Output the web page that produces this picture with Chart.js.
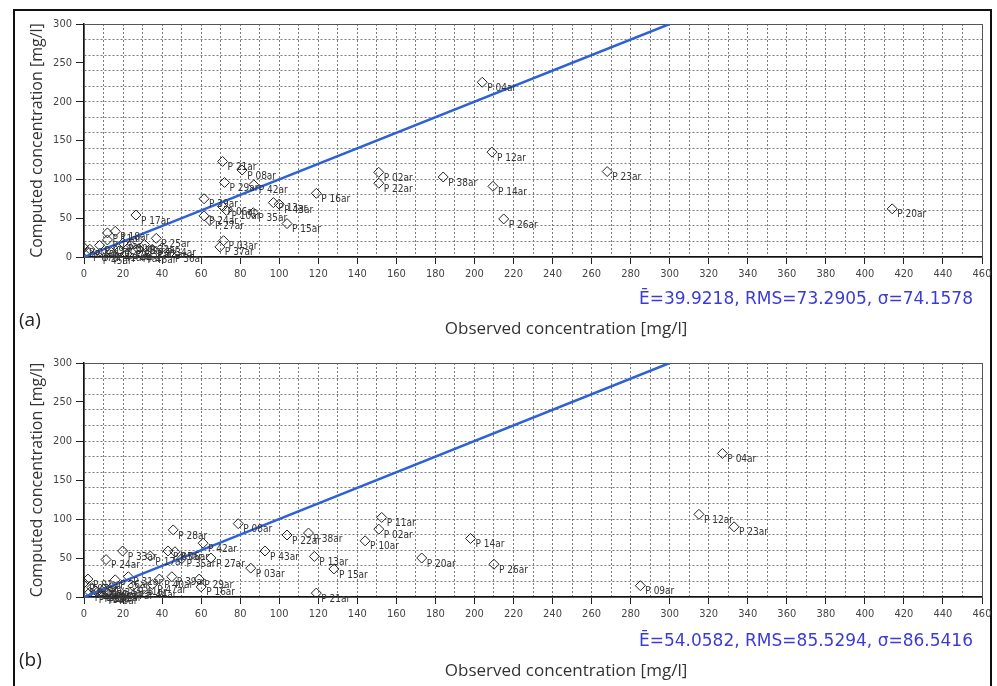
<!DOCTYPE html>
<html>
<head>
<meta charset="utf-8">
<script src="https://cdn.jsdelivr.net/npm/chart.js@4.4.1/dist/chart.umd.min.js"></script>
<style>
  body { margin: 0; background: #fff; width: 997px; height: 686px; overflow: hidden; position: relative; }
  #frame { position: absolute; left: 13px; top: 9px; width: 979px; height: 700px; border: 2px solid #111; box-sizing: border-box; }
  canvas { position: absolute; left: 0; }
  .tag { position: absolute; left: 19px; font: 19px "Open Sans", sans-serif; color: #222; line-height: 24px; }
  .stats { position: absolute; right: 24px; font: 17px "DejaVu Sans", sans-serif; color: #3b3bd8; line-height: 20px; white-space: nowrap; }
  .xtitle { position: absolute; left: 566px; transform: translateX(-50%); font: 17px "Open Sans", sans-serif; color: #333; line-height: 20px; white-space: nowrap; }
</style>
</head>
<body>
<div id="frame"></div>
<canvas id="chartA" width="997" height="340" style="top:0"></canvas>
<canvas id="chartB" width="997" height="346" style="top:340px"></canvas>
<div class="tag" style="top:307px">(a)</div>
<div class="tag" style="top:647px">(b)</div>
<div class="stats" style="top:288px">Ē=39.9218, RMS=73.2905, σ=74.1578</div>
<div class="stats" style="top:630px">Ē=54.0582, RMS=85.5294, σ=86.5416</div>
<div class="xtitle" style="top:318px">Observed concentration [mg/l]</div>
<div class="xtitle" style="top:660px">Observed concentration [mg/l]</div>
<script>
// panel (a)
const namesA = ["P 04ar", "P 12ar", "P 02ar", "P 22ar", "P 38ar", "P 14ar", "P 26ar", "P 23ar", "P 20ar", "P 16ar",
  "P 21ar", "P 08ar", "P 29ar", "P 42ar", "P 39ar", "P 06ar", "P 10ar", "P 35ar", "P 13ar", "P 43ar",
  "P 15ar", "P 24ar", "P 27ar", "P 17ar", "P 03ar", "P 37ar",
  "P 01ar", "P 07ar", "P 09ar", "P 11ar", "P 18ar", "P 19ar", "P 25ar", "P 28ar", "P 30ar", "P 31ar",
  "P 32ar", "P 33ar", "P 34ar", "P 36ar", "P 40ar", "P 41ar", "P 44ar", "P 45ar", "P 46ar", "P 47ar"];
const obsA = [204, 209, 151, 151, 184, 209.5, 215, 268, 414, 119,
  71, 81, 72, 87, 61.5, 71, 73, 86.7, 97, 100,
  104, 61.5, 64.5, 26.6, 71.5, 69.6,
  0, 2, 8, 12, 16, 12, 37, 24, 20, 28,
  31, 35, 40, 44, 3, 14, 22, 7, 30, 18];
const compA = [225, 135, 109, 95, 103, 91, 49, 110, 62, 82,
  123, 112, 96, 93, 75, 65, 60, 57, 70, 68,
  43, 53, 47, 54, 21, 13,
  12, 6, 15, 31, 33, 22, 24, 15, 18, 10,
  16, 10, 12, 5, 10, 6, 4, 2, 3, 8];

// panel (b)
const namesB = ["P 04ar", "P 12ar", "P 23ar", "P 09ar", "P 11ar", "P 02ar", "P 10ar", "P 14ar", "P 20ar", "P 26ar",
  "P 13ar", "P 15ar", "P 21ar", "P 22ar", "P 38ar", "P 08ar", "P 28ar", "P 42ar", "P 43ar", "P 03ar",
  "P 27ar", "P 33ar", "P 24ar", "P 17ar", "P 35ar", "P 05ar", "P 06ar", "P 31ar", "P 39ar", "P 40ar",
  "P 29ar", "P 16ar", "P 36ar", "P 01ar", "P 07ar", "P 18ar", "P 19ar", "P 25ar", "P 30ar", "P 32ar",
  "P 34ar", "P 37ar", "P 41ar", "P 44ar", "P 45ar", "P 46ar", "P 47ar", "P 48ar"];
const obsB = [327, 315, 333, 285, 152.5, 151, 144, 198, 173, 210,
  118, 128, 119, 104, 115, 79, 45.7, 61, 92.7, 85.4,
  65, 19.8, 11.3, 34, 50, 43, 46.6, 22.7, 45, 38.6,
  59, 60, 16, 2, 0, 4, 6, 8, 10, 12,
  14, 18, 25, 30, 5, 10, 35, 3];
const compB = [184, 106, 90, 14.5, 102, 87, 72, 75, 50, 42,
  52, 36, 5, 79.5, 82, 94, 86, 69, 59, 37,
  50, 59, 48, 52.5, 49, 59, 58, 26, 26, 23,
  23, 13, 22, 23, 18, 12, 8, 5, 10, 6,
  12, 8, 14, 10, 3, 2, 16, 6];

// 1:1 line
const lineObs = [0, 300];
const lineComp = [0, 300];

// axes
const xMin = 0, xMax = 460, xGridStep = 10, xLabelStep = 20;
const yMin = 0, yMax = 300, yGridStep = 20, yLabelStep = 50;

const tickFont = { family: "DejaVu Sans Condensed", size: 11 };

const pointNames = {
  id: "pointNames",
  afterDatasetsDraw(chart) {
    const ctx = chart.ctx;
    chart.data.datasets.forEach((ds, di) => {
      if (!ds.names) return;
      const meta = chart.getDatasetMeta(di);
      ctx.save();
      ctx.font = '10px "DejaVu Sans Condensed"';
      ctx.fillStyle = "#333";
      ctx.textBaseline = "middle";
      meta.data.forEach((pt, i) => ctx.fillText(ds.names[i], pt.x + 5, pt.y + 6));
      ctx.restore();
    });
  }
};

const plotBox = {
  id: "plotBox",
  beforeDatasetsDraw(chart) {
    const a = chart.chartArea;
    const ctx = chart.ctx;
    ctx.save();
    ctx.strokeStyle = "#555";
    ctx.lineWidth = 1;
    ctx.strokeRect(a.left + 0.5, a.top + 0.5, a.right - a.left, a.bottom - a.top);
    ctx.restore();
  }
};

function makePanel(id, obs, comp, names, topPad, xHeight) {
  const pts = obs.map((x, i) => ({ x: x, y: comp[i] }));
  const line = lineObs.map((x, i) => ({ x: x, y: lineComp[i] }));
  return new Chart(document.getElementById(id), {
    type: "scatter",
    data: {
      datasets: [
        {
          data: line,
          showLine: true,
          borderColor: "#2d62d6",
          borderWidth: 2.5,
          pointRadius: 0
        },
        {
          data: pts,
          names: names,
          pointStyle: "rectRot",
          pointRadius: 5,
          borderColor: "#222",
          borderWidth: 1,
          backgroundColor: "rgba(0,0,0,0)"
        }
      ]
    },
    options: {
      responsive: false,
      animation: false,
      devicePixelRatio: 1,
      layout: { padding: { top: topPad, right: 15, left: 0, bottom: 0 } },
      plugins: { legend: { display: false }, tooltip: { enabled: false } },
      scales: {
        x: {
          type: "linear",
          min: xMin,
          max: xMax,
          afterFit: (s) => { s.height = xHeight; },
          ticks: {
            stepSize: xGridStep,
            autoSkip: false,
            maxRotation: 0,
            padding: 4,
            color: "#444",
            font: tickFont,
            callback: (v) => (Math.round(v) % xLabelStep === 0 ? v : "")
          },
          grid: {
            color: "#7a7a7a",
            tickColor: (c) => (c.tick && Math.round(c.tick.value) % xLabelStep === 0 ? "#222" : "rgba(0,0,0,0)"),
            tickLength: 7
          },
          border: { color: "#111", width: 1.5, dash: [2, 2] }
        },
        y: {
          type: "linear",
          min: yMin,
          max: yMax,
          afterFit: (s) => { s.width = 84; },
          ticks: {
            stepSize: 10,
            autoSkip: false,
            padding: 4,
            color: "#444",
            font: tickFont,
            callback: (v) => (Math.round(v) % yLabelStep === 0 ? v : "")
          },
          grid: {
            color: (c) => (c.tick && Math.round(c.tick.value) % yGridStep === 0 ? "#7a7a7a" : "rgba(0,0,0,0)"),
            tickColor: (c) => (c.tick && Math.round(c.tick.value) % yLabelStep === 0 ? "#222" : "rgba(0,0,0,0)"),
            tickLength: 8
          },
          border: { color: "#111", width: 1.5, dash: [2, 2] },
          title: {
            display: true,
            text: "Computed concentration [mg/l]",
            color: "#333",
            font: { family: "Open Sans", size: 16 },
            padding: { top: 28, bottom: 0 }
          }
        }
      }
    },
    plugins: [plotBox, pointNames]
  });
}

makePanel("chartA", obsA, compA, namesA, 24, 83);
makePanel("chartB", obsB, compB, namesB, 23, 89);
</script>
</body>
</html>
